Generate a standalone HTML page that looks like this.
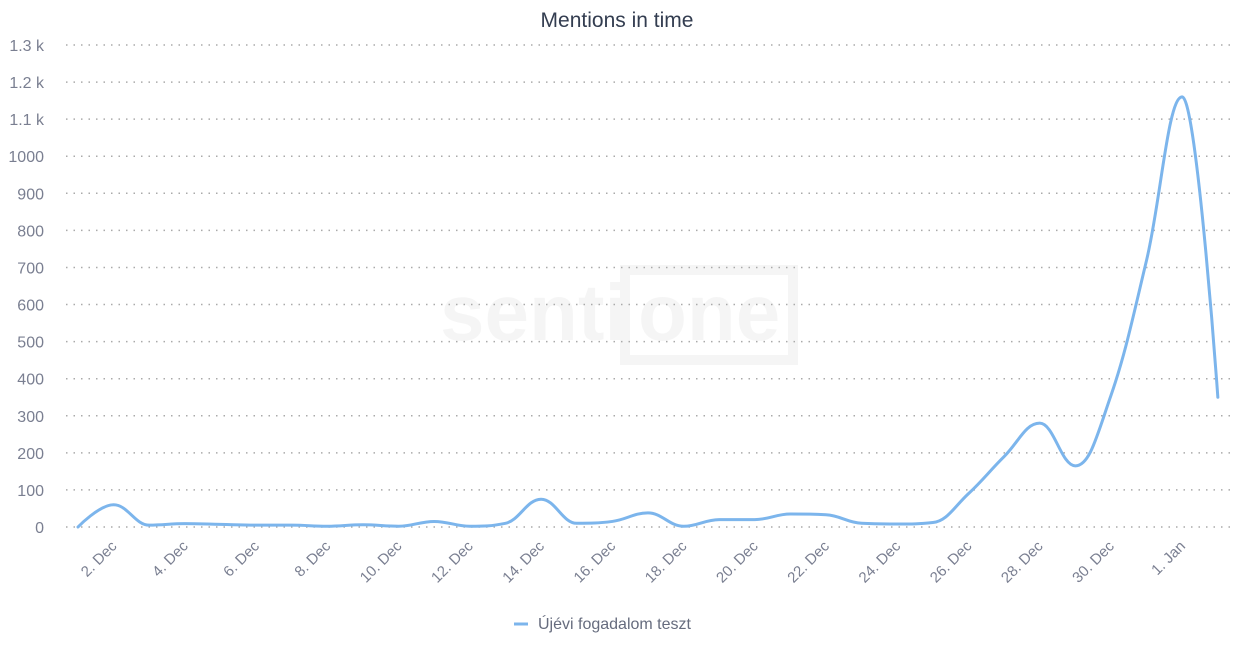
<!DOCTYPE html>
<html><head><meta charset="utf-8"><style>
html,body{margin:0;padding:0;background:#fff;width:1234px;height:652px;overflow:hidden}
svg{display:block;font-family:"Liberation Sans","DejaVu Sans",sans-serif}
</style></head><body>
<svg id="chart" width="1234" height="652">
<text x="617" y="27" text-anchor="middle" font-size="21" fill="#333d50">Mentions in time</text>
<g opacity="0.035">
<text x="440" y="340" font-size="80" font-weight="bold" fill="#000">senti</text>
<rect x="625" y="270" width="168" height="90" fill="none" stroke="#000" stroke-width="10"/>
<text x="638" y="340" font-size="80" font-weight="bold" fill="#000">one</text>
</g>
<g id="grid"></g>
<g id="ylabels"></g>
<g id="xlabels"></g>
<path id="series" fill="none" stroke="#7cb5ec" stroke-width="3" stroke-linejoin="round" stroke-linecap="round"/>
<g>
<line x1="514" y1="624" x2="528" y2="624" stroke="#7cb5ec" stroke-width="3"/>
<text x="538" y="629" font-size="16" fill="#666c7e">Újévi fogadalom teszt</text>
</g>
</svg>
<script>
// index 0 = 1 Dec ... index 32 = 2 Jan
const data=[0,60,5,9,7,5,5,2,6,2,15,2,10,75,10,15,38,2,20,20,35,33,10,8,12,90,190,280,165,355,720,1160,350];
const yTicks=[0,100,200,300,400,500,600,700,800,900,1000,1100,1200,1300];
const yTickLabels=["0","100","200","300","400","500","600","700","800","900","1000","1.1 k","1.2 k","1.3 k"];
const xTickLabels=["2. Dec","4. Dec","6. Dec","8. Dec","10. Dec","12. Dec","14. Dec","16. Dec","18. Dec","20. Dec","22. Dec","24. Dec","26. Dec","28. Dec","30. Dec","1. Jan"];
const xTickIndex=[1,3,5,7,9,11,13,15,17,19,21,23,25,27,29,31];
const NS="http://www.w3.org/2000/svg";
const x0=78,dx=35.62,yBase=527,yPer=(527-45)/1300;
function xs(i){return x0+i*dx;}
function ys(v){return yBase-v*yPer;}
const grid=document.getElementById('grid'),yl=document.getElementById('ylabels'),xl=document.getElementById('xlabels');
yTicks.forEach((t,k)=>{
  const l=document.createElementNS(NS,'line');
  l.setAttribute('x1',66);l.setAttribute('x2',1230);l.setAttribute('y1',ys(t));l.setAttribute('y2',ys(t));
  l.setAttribute('stroke','#aaa');l.setAttribute('stroke-width','1.5');l.setAttribute('stroke-dasharray','1.5,6');
  
  
  grid.appendChild(l);
  const tx=document.createElementNS(NS,'text');
  tx.setAttribute('x',44);tx.setAttribute('y',ys(t)+6);tx.setAttribute('text-anchor','end');
  tx.setAttribute('font-size','16');tx.setAttribute('fill','#7a7f91');
  tx.textContent=yTickLabels[k];
  
  
  yl.appendChild(tx);
});
xTickLabels.forEach((lab,k)=>{
  const x=xs(xTickIndex[k])+4,y=547;
  const tx=document.createElementNS(NS,'text');
  tx.setAttribute('x',x);tx.setAttribute('y',y);tx.setAttribute('text-anchor','end');
  tx.setAttribute('font-size','15');tx.setAttribute('fill','#7a7f91');
  tx.setAttribute('transform','rotate(-45 '+x+' '+y+')');
  tx.textContent=lab;
  
  
  xl.appendChild(tx);
});
const pts=data.map((v,i)=>[xs(i),ys(v)]);
let d='M'+pts[0][0]+' '+pts[0][1];
const s=1.5;
function ctrl(a,b,c){
  let lx=(s*b[0]+a[0])/(s+1),ly=(s*b[1]+a[1])/(s+1),rx=(s*b[0]+c[0])/(s+1),ry=(s*b[1]+c[1])/(s+1);
  const corr=(ry-ly)*(rx-b[0])/(rx-lx||1)+b[1]-ry;
  ly+=corr;ry+=corr;
  if(ly>Math.max(a[1],b[1])){ly=Math.max(a[1],b[1]);ry=2*b[1]-ly;}
  else if(ly<Math.min(a[1],b[1])){ly=Math.min(a[1],b[1]);ry=2*b[1]-ly;}
  if(ry>Math.max(c[1],b[1])){ry=Math.max(c[1],b[1]);ly=2*b[1]-ry;}
  else if(ry<Math.min(c[1],b[1])){ry=Math.min(c[1],b[1]);ly=2*b[1]-ry;}
  return [[lx,ly],[rx,ry]];
}
for(let i=1;i<pts.length;i++){
  const p0=pts[i-1],p1=pts[i];
  const pm=pts[i-2]||p0,pn=pts[i+1]||p1;
  const c0=(i-1===0)?[p0,p0]:ctrl(pm,p0,p1);
  const c1=(i===pts.length-1)?[p1,p1]:ctrl(p0,p1,pn);
  d+=' C'+c0[1][0]+' '+c0[1][1]+' '+c1[0][0]+' '+c1[0][1]+' '+p1[0]+' '+p1[1];
}
document.getElementById('series').setAttribute('d',d);
</script>
</body></html>
